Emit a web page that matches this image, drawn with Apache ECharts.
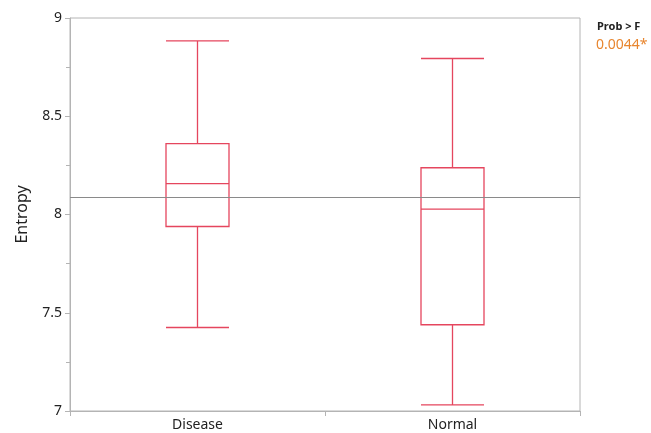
<!DOCTYPE html>
<html>
<head>
<meta charset="utf-8">
<script src="https://cdn.jsdelivr.net/npm/echarts@6/dist/echarts.min.js"></script>
<style>
  html, body { margin: 0; padding: 0; background: #fff; }
  #chart { width: 651px; height: 433px; }
</style>
</head>
<body>
<div id="chart"></div>
<script>
// groups on the x axis
var groups = ['Disease', 'Normal'];
// box stats: [min, Q1, median, Q3, max]
var diseaseBox = [7.425, 7.939, 8.157, 8.361, 8.884];
var normalBox = [7.031, 7.439, 8.027, 8.238, 8.794];
// overall mean line
var grandMean = 8.09;
var probLabel = 'Prob > F';
var probValue = '0.0044*';

var font = 'Noto Sans';
var chart = echarts.init(document.getElementById('chart'));
chart.setOption({
  animation: false,
  grid: {
    left: 70, right: 71, top: 18, bottom: 22,
    show: true, borderColor: '#b4b4b4', borderWidth: 1
  },
  graphic: [
    {
      type: 'text', left: 597, top: 21,
      style: { text: probLabel, font: 'bold 11px "' + font + '"', fill: '#222' }
    },
    {
      type: 'text', left: 596, top: 38,
      style: { text: probValue, font: '14px "' + font + '"', fill: '#e8862f' }
    }
  ],
  xAxis: {
    type: 'category',
    data: groups,
    axisLine: { lineStyle: { color: '#b4b4b4' } },
    axisTick: { show: true, length: 5, inside: false, lineStyle: { color: '#b4b4b4' } },
    axisLabel: { color: '#222', fontSize: 14, fontFamily: font, margin: 7 },
    splitLine: { show: false }
  },
  yAxis: {
    type: 'value',
    min: 7, max: 9, interval: 0.5,
    name: 'Entropy',
    nameLocation: 'middle',
    nameGap: 40,
    nameRotate: 90,
    nameTextStyle: { color: '#222', fontSize: 16, fontFamily: font },
    axisLine: { show: true, lineStyle: { color: '#b4b4b4' } },
    axisTick: { show: true, length: 5, lineStyle: { color: '#b4b4b4' } },
    minorTick: { show: true, splitNumber: 2, length: 4, lineStyle: { color: '#b4b4b4' } },
    axisLabel: { color: '#222', fontSize: 14, fontFamily: font, margin: 8 },
    splitLine: { show: false }
  },
  series: [
    {
      type: 'boxplot',
      data: [diseaseBox, normalBox],
      boxWidth: [63, 63],
      itemStyle: { color: 'transparent', borderColor: '#e5465e', borderWidth: 1.3 },
      markLine: {
        silent: true,
        symbol: 'none',
        label: { show: false },
        lineStyle: { color: '#8a8a8a', type: 'solid', width: 1.2 },
        data: [{ yAxis: grandMean }]
      }
    }
  ]
});
</script>
</body>
</html>
